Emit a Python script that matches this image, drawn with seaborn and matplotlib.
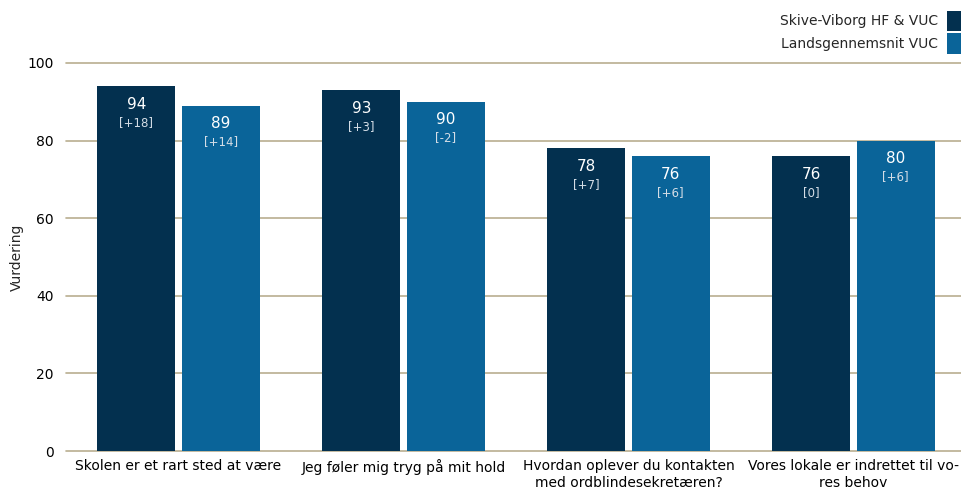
import pandas as pd
import matplotlib
matplotlib.use("Agg")
import matplotlib.pyplot as plt
import seaborn as sns

# data
categories = [
    "Skolen er et rart sted at være",
    "Jeg føler mig tryg på mit hold",
    "Hvordan oplever du kontakten\nmed ordblindesekretæren?",
    "Vores lokale er indrettet til vo-\nres behov",
]
series = ["Skive-Viborg HF & VUC", "Landsgennemsnit VUC"]
skive_values = [94, 93, 78, 76]
lands_values = [89, 90, 76, 80]
skive_diff = ["[+18]", "[+3]", "[+7]", "[0]"]
lands_diff = ["[+14]", "[-2]", "[+6]", "[+6]"]

colors = ["#03304f", "#0a6499"]
grid_color = "#b9ae90"

df = pd.DataFrame({
    "kategori": categories * 2,
    "serie": [series[0]] * 4 + [series[1]] * 4,
    "vurdering": skive_values + lands_values,
})

sns.set_style("white")
plt.rcParams["font.family"] = ["DejaVu Sans"]

fig = plt.figure(figsize=(9.62, 4.94), dpi=100)
ax = fig.add_axes([66 / 962, 1 - 451 / 494, 1 - 66 / 962, (451 - 63) / 494])

sns.barplot(data=df, x="kategori", y="vurdering", hue="serie",
            order=categories, hue_order=series, palette=colors,
            width=0.75, gap=0.076, saturation=1, linewidth=0,
            ax=ax, zorder=3)

ax.set_ylim(0, 100)
ax.set_xlim(-0.5, 3.482)
ax.set_yticks([0, 20, 40, 60, 80, 100])
ax.yaxis.grid(True, color=grid_color, linewidth=1.2, zorder=0)
for gl in ax.get_ygridlines():
    gl.set_clip_on(False)
ax.set_axisbelow(True)
for s in ax.spines.values():
    s.set_visible(False)
ax.tick_params(axis="both", length=0, labelsize=10, colors="#000000")
ax.tick_params(axis="y", pad=9)
ax.tick_params(axis="x", pad=6)
ax.set_xlabel("")
ax.set_ylabel("Vurdering", fontsize=10)
ax.yaxis.set_label_coords(-0.047, 0.5)

# value labels inside the bars
for cont, vals, diffs in zip(ax.containers, [skive_values, lands_values], [skive_diff, lands_diff]):
    for bar, v, d in zip(cont, vals, diffs):
        cx = bar.get_x() + bar.get_width() / 2
        top = bar.get_height()
        ax.annotate(str(v), (cx, top), xytext=(0, -13), textcoords="offset points",
                    ha="center", va="center", color="white", fontsize=11)
        ax.annotate(d, (cx, top), xytext=(0, -26), textcoords="offset points",
                    ha="center", va="center", color="#d4dde6", fontsize=8.5)

leg = ax.legend(loc="upper right", bbox_to_anchor=(1.0, 1.135), frameon=False,
                markerfirst=False, fontsize=10, handlelength=1.1, handleheight=1.9,
                handletextpad=0.6, labelspacing=0.15, borderaxespad=0, borderpad=0)
for t in leg.get_texts():
    t.set_ha("right")

fig.savefig("out.png", dpi=100)
